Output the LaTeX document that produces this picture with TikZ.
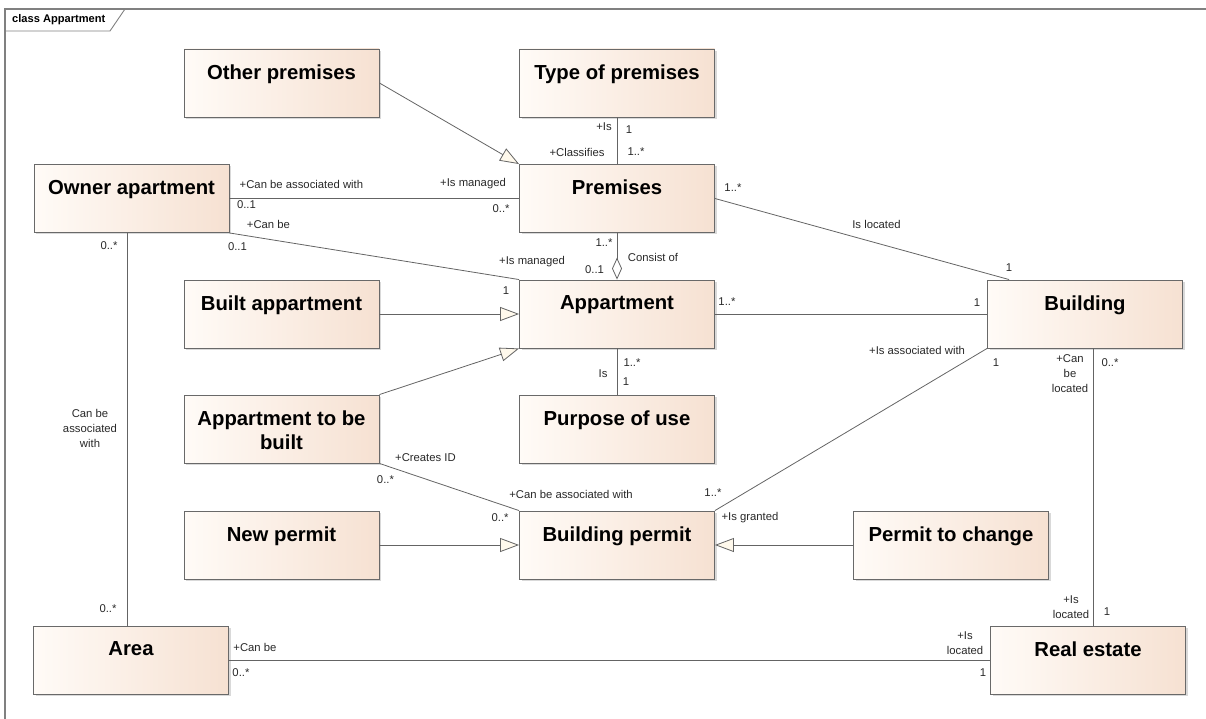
\documentclass[tikz,border=0pt]{standalone}
\usepackage{fontspec}
\setmainfont{Liberation Sans}
\usetikzlibrary{arrows.meta,shadows}
\definecolor{clsleft}{RGB}{255,251,247}
\definecolor{clsright}{RGB}{246,225,210}
\definecolor{clsline}{RGB}{105,105,105}
\definecolor{connline}{RGB}{100,100,100}
\definecolor{framec}{RGB}{128,128,128}
\definecolor{tipfill}{RGB}{255,249,236}
\definecolor{lbltext}{RGB}{40,40,40}
\tikzset{
  cls/.style={draw=clsline, line width=0.9pt, left color=clsleft, right color=clsright,
    minimum width=195pt, minimum height=68pt, inner sep=0pt,
    drop shadow={shadow xshift=2pt, shadow yshift=-2pt, opacity=0.25, fill=black!60}},
  clsname/.style={label={[anchor=north, yshift=-16pt, inner sep=0pt, align=center,
    font=\fontsize{20.3}{24}\selectfont\bfseries]north:{#1}}},
  assoc/.style={draw=connline, line width=0.8pt},
  gen/.style={assoc, -{Triangle[length=19pt, width=14pt, fill=tipfill]}},
  aggr/.style={assoc, -{Diamond[length=22pt, width=10pt, fill=white]}},
  lbl/.style={font=\fontsize{11.3}{15}\selectfont, text=lbltext, inner sep=0pt, align=center},
}
\begin{document}
\begin{tikzpicture}[x=1pt, y=-1pt]
\useasboundingbox (0,0) rectangle (1206,719);
% frame
\draw[framec, line width=1.2pt] (1206,9) -- (5,9) -- (5,719);
\draw[framec, line width=0.9pt] (5,31) -- (110,31) -- (125,9);
\node[font=\fontsize{11.1}{13}\selectfont\bfseries, anchor=west, inner sep=0pt] (frametitle) at (12,20) {class Appartment};
% classes
\node[cls, clsname={Other premises}] (other) at (281.5,83) {};
\node[cls, clsname={Type of premises}] (type) at (617,83) {};
\node[cls, clsname={Owner apartment}] (owner) at (131.5,198.5) {};
\node[cls, clsname={Premises}] (premises) at (617,198.5) {};
\node[cls, clsname={Built appartment}] (built) at (281.5,314) {};
\node[cls, clsname={Appartment}] (appt) at (617,314) {};
\node[cls, clsname={Building}] (building) at (1085,314) {};
\node[cls, clsname={Appartment to be\\built}] (tobebuilt) at (281.5,429) {};
\node[cls, clsname={Purpose of use}] (purpose) at (617,429) {};
\node[cls, clsname={New permit}] (newpermit) at (281.5,545) {};
\node[cls, clsname={Building permit}] (permit) at (617,545) {};
\node[cls, clsname={Permit to change}] (change) at (951,545) {};
\node[cls, clsname={Area}] (area) at (131,660) {};
\node[cls, clsname={Real estate}] (realestate) at (1088,660) {};
\path ([xshift=8pt]building.south) coordinate (bldfoot);
\path ([xshift=-4.5pt]owner.south) coordinate (ownfoot);
% generalizations
\draw[gen] (other.east) -- (premises.north west);
\draw[gen] (built.east) -- (appt.west);
\draw[gen] (tobebuilt.north east) -- (appt.south west);
\draw[gen] (newpermit.east) -- (permit.west);
\draw[gen] (change.west) -- (permit.east);
% associations
\draw[assoc] (owner.east) -- (premises.west)
  node[lbl, at start, xshift=72pt, yshift=14pt] {+Can be associated with}
  node[lbl, at start, xshift=17pt, yshift=-6pt] {0..1}
  node[lbl, at end, xshift=-46pt, yshift=15pt] {+Is managed}
  node[lbl, at end, xshift=-18pt, yshift=-10pt] {0..*};
\draw[assoc] (owner.south east) -- (appt.north west)
  node[lbl, at start, xshift=39pt, yshift=8pt] {+Can be}
  node[lbl, at start, xshift=8pt, yshift=-14pt] {0..1}
  node[lbl, at end, xshift=13pt, yshift=18pt] {+Is managed}
  node[lbl, at end, xshift=-13pt, yshift=-11pt] {1};
\draw[assoc] (type.south) -- (premises.north)
  node[lbl, at start, xshift=-13pt, yshift=-9pt] {+Is}
  node[lbl, at start, xshift=12pt, yshift=-12pt] {1}
  node[lbl, at end, xshift=-40pt, yshift=12pt] {+Classifies}
  node[lbl, at end, xshift=19pt, yshift=12pt] {1..*};
\draw[aggr] (premises.south) -- (appt.north)
  node[lbl, at start, xshift=-13pt, yshift=-10pt] {1..*}
  node[lbl, at end, xshift=-22.5pt, yshift=10pt] {0..1}
  node[lbl, at end, xshift=36pt, yshift=22pt] {Consist of};
\draw[assoc] (premises.east) -- ([xshift=22pt]building.north west)
  node[lbl, at start, xshift=18pt, yshift=11pt] {1..*}
  node[lbl, midway, xshift=14.5pt, yshift=15pt] {Is located}
  node[lbl, at end, yshift=12pt] {1};
\draw[assoc] (appt.east) -- (building.west)
  node[lbl, at start, xshift=12pt, yshift=12pt] {1..*}
  node[lbl, at end, xshift=-10pt, yshift=11pt] {1};
\draw[assoc] (building.south west) -- (permit.north east)
  node[lbl, at start, xshift=-70pt, yshift=-2pt] {+Is associated with}
  node[lbl, at start, xshift=9pt, yshift=-14pt] {1}
  node[lbl, at end, xshift=-2pt, yshift=18pt] {1..*}
  node[lbl, at end, xshift=35pt, yshift=-7pt] {+Is granted};
\draw[assoc] (bldfoot) -- (bldfoot |- realestate.north)
  node[lbl, at start, xshift=-23pt, yshift=-25pt] {+Can\\be\\located}
  node[lbl, at start, xshift=17pt, yshift=-14pt] {0..*}
  node[lbl, at end, xshift=-22pt, yshift=18pt] {+Is\\located}
  node[lbl, at end, xshift=14pt, yshift=14pt] {1};
\draw[assoc] (area.east) -- (realestate.west)
  node[lbl, at start, xshift=26pt, yshift=13pt] {+Can be}
  node[lbl, at start, xshift=12pt, yshift=-13pt] {0..*}
  node[lbl, at end, xshift=-25pt, yshift=17pt] {+Is\\located}
  node[lbl, at end, xshift=-7pt, yshift=-13pt] {1};
\draw[assoc] (ownfoot) -- (ownfoot |- area.north)
  node[lbl, at start, xshift=-18pt, yshift=-13pt] {0..*}
  node[lbl, midway, xshift=-37pt, yshift=1pt] {Can be\\associated\\with}
  node[lbl, at end, xshift=-19pt, yshift=17pt] {0..*};
\draw[assoc] (appt.south) -- (purpose.north)
  node[lbl, at start, xshift=15pt, yshift=-14pt] {1..*}
  node[lbl, at start, xshift=-14pt, yshift=-25pt] {Is}
  node[lbl, at end, xshift=9pt, yshift=13pt] {1};
\draw[assoc] (tobebuilt.south east) -- (permit.north west)
  node[lbl, at start, xshift=46pt, yshift=6pt] {+Creates ID}
  node[lbl, at start, xshift=6pt, yshift=-16pt] {0..*}
  node[lbl, at end, xshift=52pt, yshift=16pt] {+Can be associated with}
  node[lbl, at end, xshift=-19pt, yshift=-7pt] {0..*};
\end{tikzpicture}
\end{document}
